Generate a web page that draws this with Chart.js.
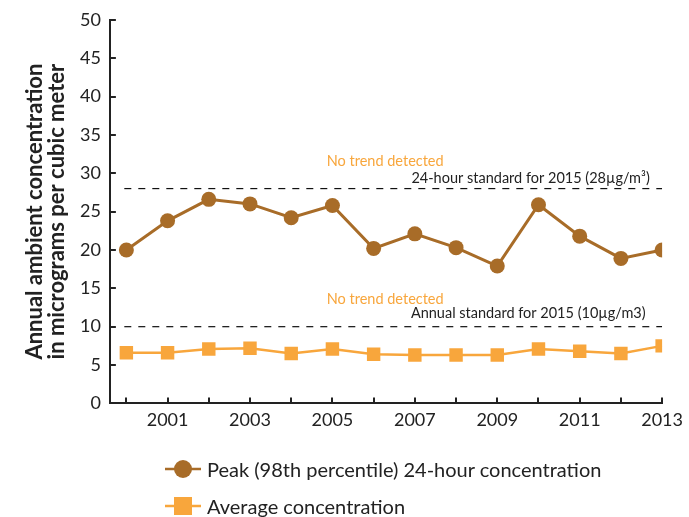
<!DOCTYPE html>
<html>
<head>
<meta charset="utf-8">
<script src="https://cdn.jsdelivr.net/npm/chart.js@4.4.1/dist/chart.umd.min.js"></script>
<style>
  html, body { margin: 0; padding: 0; background: #fff; overflow: hidden; }
  #wrap { position: relative; width: 689px; height: 517px; }
  #legend { position: absolute; left: 163px; top: 450px; font-family: Lato, sans-serif; font-size: 20px; color: #222; }
  .item { display: flex; align-items: center; height: 37px; }
  .item canvas { margin-right: 4px; }
</style>
</head>
<body>
<div id="wrap">
  <canvas id="chart" width="689" height="517"></canvas>
  <div id="legend"></div>
</div>
<script>
var years = [2000, 2001, 2002, 2003, 2004, 2005, 2006, 2007, 2008, 2009, 2010, 2011, 2012, 2013];
var peak = [20.0, 23.8, 26.6, 26.0, 24.2, 25.8, 20.2, 22.1, 20.3, 17.9, 25.9, 21.8, 18.9, 20.0];
var average = [6.6, 6.6, 7.1, 7.2, 6.5, 7.1, 6.4, 6.3, 6.3, 6.3, 7.1, 6.8, 6.5, 7.5];
var standard24h = 28;
var standardAnnual = 10;
var yTicks = [0, 5, 10, 15, 20, 25, 30, 35, 40, 45, 50];

var brown = '#A86C28';
var orange = '#F8A63C';

function xy(vals) {
    return years.map(function (y, i) { return { x: y, y: vals[i] }; });
}

function dashed(v) {
    return {
        label: 'std',
        data: [{ x: 1999.95, y: v }, { x: 2013, y: v }],
        borderColor: '#111',
        borderWidth: 1.2,
        borderDash: [7, 7],
        pointRadius: 0,
        order: 5
    };
}

// inward tick marks and text labels
var extras = {
    id: 'extras',
    afterDraw: function (chart) {
        var ctx = chart.ctx, xs = chart.scales.x, ys = chart.scales.y;
        var a = chart.chartArea;
        ctx.save();
        ctx.strokeStyle = '#222';
        ctx.lineWidth = 2;
        years.forEach(function (y) {
            var px = Math.round(xs.getPixelForValue(y));
            ctx.beginPath();
            ctx.moveTo(px, a.bottom);
            ctx.lineTo(px, a.bottom - 6);
            ctx.stroke();
        });
        yTicks.forEach(function (v) {
            var py = Math.round(ys.getPixelForValue(v));
            ctx.beginPath();
            ctx.moveTo(a.left, py);
            ctx.lineTo(a.left + 6, py);
            ctx.stroke();
        });

        ctx.font = '14.5px Lato, sans-serif';
        ctx.textBaseline = 'middle';
        ctx.fillStyle = orange;
        ctx.textAlign = 'center';
        ctx.fillText('No trend detected', xs.getPixelForValue(2006.28), ys.getPixelForValue(31.6));
        ctx.fillText('No trend detected', xs.getPixelForValue(2006.28), ys.getPixelForValue(13.5));
        ctx.fillStyle = '#222';
        ctx.textAlign = 'right';
        ctx.fillText('24-hour standard for 2015 (28\u00b5g/m\u00b3)', xs.getPixelForValue(2012.7), ys.getPixelForValue(29.35));
        ctx.fillText('Annual standard for 2015 (10\u00b5g/m3)', xs.getPixelForValue(2012.6), ys.getPixelForValue(11.7));
        ctx.restore();
    }
};

new Chart(document.getElementById('chart').getContext('2d'), {
    type: 'line',
    data: {
        datasets: [
            {
                label: 'Peak (98th percentile) 24-hour concentration',
                data: xy(peak),
                borderColor: brown,
                backgroundColor: brown,
                borderWidth: 3,
                pointStyle: 'circle',
                pointRadius: 7.5,
                pointBorderWidth: 0,
                order: 1
            },
            {
                label: 'Average concentration',
                data: xy(average),
                borderColor: orange,
                backgroundColor: orange,
                borderWidth: 2.5,
                pointStyle: 'rect',
                pointRadius: 9.5,
                pointBorderWidth: 0,
                order: 2
            },
            dashed(standard24h),
            dashed(standardAnnual)
        ]
    },
    options: {
        responsive: false,
        animation: false,
        layout: { padding: { top: 4, right: 26, bottom: 80, left: 24 } },
        plugins: { legend: { display: false }, tooltip: { enabled: false } },
        scales: {
            x: {
                type: 'linear',
                min: 1999.6,
                max: 2013,
                afterBuildTicks: function (s) {
                    s.ticks = years.map(function (y) { return { value: y }; });
                },
                ticks: {
                    autoSkip: false,
                    maxRotation: 0,
                    padding: 6,
                    color: '#222',
                    font: { family: 'Lato, sans-serif', size: 18 },
                    callback: function (v) { return v % 2 === 1 ? String(v) : ''; }
                },
                grid: { display: false, drawTicks: false },
                border: { color: '#222', width: 2 }
            },
            y: {
                min: 0,
                max: 50,
                afterBuildTicks: function (s) {
                    s.ticks = yTicks.map(function (v) { return { value: v }; });
                },
                ticks: {
                    padding: 9,
                    color: '#222',
                    font: { family: 'Lato, sans-serif', size: 18 }
                },
                grid: { display: false, drawTicks: false },
                border: { color: '#222', width: 2 },
                title: {
                    display: true,
                    text: ['Annual ambient concentration', 'in micrograms per cubic meter'],
                    color: '#222',
                    font: { family: 'Lato, sans-serif', size: 22, weight: 'bold', lineHeight: 1.0 },
                    padding: { top: 0, bottom: 3 }
                }
            }
        }
    },
    plugins: [extras]
});

// legend with line + marker swatches
function swatch(color, shape) {
    var c = document.createElement('canvas');
    c.width = 40; c.height = 22;
    var g = c.getContext('2d');
    g.strokeStyle = color; g.lineWidth = 2.5;
    g.beginPath(); g.moveTo(2, 11); g.lineTo(38, 11); g.stroke();
    g.fillStyle = color;
    if (shape === 'circle') {
        g.beginPath(); g.arc(20, 11, 9, 0, Math.PI * 2); g.fill();
    } else {
        g.fillRect(11, 2, 18, 18);
    }
    return c;
}
var legendItems = [
    { text: 'Peak (98th percentile) 24-hour concentration', color: brown, shape: 'circle' },
    { text: 'Average concentration', color: orange, shape: 'rect' }
];
var lg = document.getElementById('legend');
legendItems.forEach(function (it) {
    var d = document.createElement('div');
    d.className = 'item';
    d.appendChild(swatch(it.color, it.shape));
    var s = document.createElement('span');
    s.textContent = it.text;
    d.appendChild(s);
    lg.appendChild(d);
});
</script>
</body>
</html>
